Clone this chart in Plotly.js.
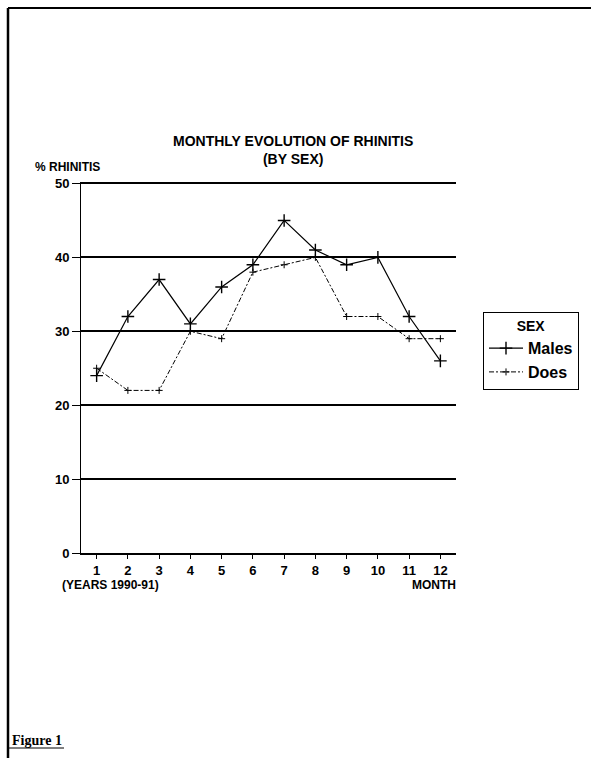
<!DOCTYPE html>
<html>
<head>
<meta charset="utf-8">
<script src="https://cdn.plot.ly/plotly-3.0.1.min.js"></script>
<style>html,body{margin:0;padding:0;background:#fff;}#chart{width:591px;height:758px;}</style>
</head>
<body>
<div id="chart"></div>
<script>
// ---- data ----
const months = [1, 2, 3, 4, 5, 6, 7, 8, 9, 10, 11, 12];
const monthLabels = ['1', '2', '3', '4', '5', '6', '7', '8', '9', '10', '11', '12'];
const males = [24, 32, 37, 31, 36, 39, 45, 41, 39, 40, 32, 26];
const does = [25, 22, 22, 30, 29, 38, 39, 40, 32, 32, 29, 29];
const yTicks = [0, 10, 20, 30, 40, 50];
const seriesNames = ['Males', 'Does'];

// ---- layout helpers (pixel -> paper) ----
const W = 591, H = 758;
const M = {l: 81, r: 135, t: 182, b: 205};
const PW = W - M.l - M.r, PH = H - M.t - M.b;
const px = x => (x - M.l) / PW;
const py = y => (H - M.b - y) / PH;

const FONT = 'Liberation Sans Narrow, Arial Narrow, Liberation Sans, Arial, sans-serif';

const traces = [
  {
    x: months, y: males, name: seriesNames[0], type: 'scatter', mode: 'lines+markers',
    line: {color: '#000', width: 1.2},
    marker: {symbol: 'cross-thin', size: 9, color: '#000', line: {color: '#000', width: 1.4}}
  },
  {
    x: months, y: does, name: seriesNames[1], type: 'scatter', mode: 'lines+markers',
    line: {color: '#000', width: 1, dash: '5px,2px,2px,2px'},
    marker: {symbol: 'cross-thin', size: 5, color: '#000', line: {color: '#000', width: 1}}
  }
];

const layout = {
  width: W, height: H,
  margin: M,
  paper_bgcolor: '#fff', plot_bgcolor: '#fff',
  showlegend: true,
  font: {family: FONT, color: '#000', weight: 'bold'},
  xaxis: {
    range: [0.5, 12.5], tickvals: months, ticktext: monthLabels,
    ticks: 'outside', ticklen: 4, tickwidth: 1, tickcolor: '#000',
    showline: true, linecolor: '#000', linewidth: 2,
    showgrid: false, zeroline: false,
    tickfont: {family: FONT, size: 13, color: '#000', weight: 'bold'}
  },
  yaxis: {
    range: [0, 50.2], tickvals: yTicks,
    ticks: 'outside', ticklen: 8, tickwidth: 1, tickcolor: '#000',
    showline: true, linecolor: '#000', linewidth: 1,
    showgrid: true, gridcolor: '#000', gridwidth: 2,
    zeroline: false,
    tickfont: {family: FONT, size: 13, color: '#000', weight: 'bold'}
  },
  legend: {
    title: {text: 'SEX', side: 'top center', font: {family: FONT, size: 14, color: '#000', weight: 'bold'}},
    x: px(483), y: py(312), xanchor: 'left', yanchor: 'top',
    bordercolor: '#000', borderwidth: 1, bgcolor: '#fff',
    font: {family: FONT, size: 16, color: '#000', weight: 'bold'},
    itemwidth: 34
  },
  shapes: [
    {type: 'line', xref: 'paper', yref: 'paper', x0: px(8), x1: px(591), y0: py(8), y1: py(8), line: {color: '#000', width: 2}},
    {type: 'line', xref: 'paper', yref: 'paper', x0: px(8), x1: px(8), y0: py(8), y1: py(758), line: {color: '#000', width: 2.5}},
    {type: 'line', xref: 'paper', yref: 'paper', x0: px(8), x1: px(64), y0: py(748), y1: py(748), line: {color: '#000', width: 1}}
  ],
  annotations: [
    {text: 'MONTHLY EVOLUTION OF RHINITIS<br>(BY SEX)', xref: 'paper', yref: 'paper', x: px(293), y: py(150),
      showarrow: false, xanchor: 'center', yanchor: 'middle', align: 'center',
      font: {family: FONT, size: 14, weight: 'bold'}},
    {text: '% RHINITIS', xref: 'paper', yref: 'paper', x: px(33), y: py(167),
      showarrow: false, xanchor: 'left', yanchor: 'middle', font: {family: FONT, size: 12, weight: 'bold'}},
    {text: '(YEARS 1990-91)', xref: 'paper', yref: 'paper', x: px(60), y: py(585),
      showarrow: false, xanchor: 'left', yanchor: 'middle', font: {family: FONT, size: 12, weight: 'bold'}},
    {text: 'MONTH', xref: 'paper', yref: 'paper', x: px(458), y: py(585),
      showarrow: false, xanchor: 'right', yanchor: 'middle', font: {family: FONT, size: 12, weight: 'bold'}},
    {text: 'Figure 1', xref: 'paper', yref: 'paper', x: px(10), y: py(740),
      showarrow: false, xanchor: 'left', yanchor: 'middle',
      font: {family: 'Liberation Serif, Times New Roman, serif', size: 14, weight: 'bold', color: '#000'}}
  ]
};

Plotly.newPlot('chart', traces, layout, {staticPlot: true, displayModeBar: false});
</script>
</body>
</html>
